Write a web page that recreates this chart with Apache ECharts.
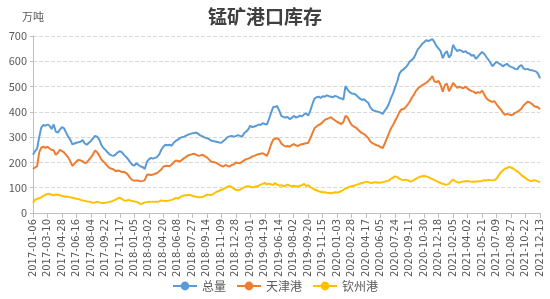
<!DOCTYPE html>
<html><head><meta charset="utf-8">
<script src="https://cdn.jsdelivr.net/npm/echarts@6/dist/echarts.min.js"></script>
<style>html,body{margin:0;padding:0;background:#fff}#c{width:550px;height:299px}</style>
</head><body><div id="c"></div>
<script>
// Label dates (every 7th weekly observation)
var labelDates = ['2017-01-06','2017-03-10','2017-04-28','2017-06-16','2017-08-04','2017-09-22','2017-11-17',
'2018-01-05','2018-03-02','2018-04-20','2018-06-08','2018-07-27','2018-09-14','2018-11-09','2018-12-28',
'2019-03-01','2019-04-19','2019-06-14','2019-08-02','2019-09-20','2019-11-15',
'2020-01-03','2020-02-28','2020-04-17','2020-06-05','2020-07-24','2020-09-11','2020-10-30','2020-12-18',
'2021-02-05','2021-04-02','2021-05-21','2021-07-09','2021-08-27','2021-10-22','2021-12-13'];

var total = [230,245,255,300,338,348,345,350,345,332,350,322,318,330,340,335,318,302,290,272,275,278,280,282,289,275,270,278,285,295,
305,302,290,270,257,250,240,232,228,226,232,240,245,240,230,222,212,200,190,188,197,190,184,182,174,202,212,218,215,218,
222,232,250,262,270,268,270,266,278,285,290,296,300,302,306,310,313,315,316,318,312,306,303,298,296,292,287,285,283,281,
279,278,285,292,300,303,305,302,304,308,305,302,315,322,330,345,340,342,345,350,348,355,352,350,370,395,418,420,423,405,
384,380,378,380,371,376,384,378,380,385,382,390,394,385,405,430,452,458,460,455,462,460,465,462,460,458,463,460,455,453,
448,502,488,478,473,472,468,460,452,447,450,442,436,418,408,404,402,400,397,392,405,416,432,455,473,498,520,550,562,568,
575,585,598,605,613,630,648,657,668,675,683,680,684,688,675,660,650,640,612,630,640,615,625,665,650,640,645,642,636,640,
633,630,622,625,610,618,628,637,630,618,607,595,580,590,598,592,588,580,586,590,582,578,575,570,568,580,585,572,568,570,
566,565,562,560,552,532];

var tianjin = [174,180,185,240,258,262,258,262,255,250,248,230,238,250,245,240,230,220,205,186,195,204,210,208,204,198,200,210,220,232,
247,240,228,212,204,195,185,178,175,172,165,168,166,162,163,158,150,138,130,128,129,128,125,127,130,150,152,150,152,155,
158,165,172,184,186,187,185,192,200,208,206,204,210,217,222,228,230,233,234,230,226,228,230,225,220,212,204,202,200,196,
191,186,184,190,186,184,190,192,200,198,197,202,208,213,215,218,224,226,230,232,234,236,232,226,245,270,289,294,296,290,
275,268,263,265,262,268,272,268,265,270,272,274,276,278,295,315,335,342,348,352,360,368,372,375,379,372,366,360,356,352,
360,384,378,362,348,342,338,330,322,316,312,305,296,283,276,272,268,266,260,257,275,295,315,335,348,365,380,398,410,410,
418,428,440,455,467,482,492,499,505,510,515,522,530,541,520,518,522,505,480,505,512,482,495,515,505,495,500,496,493,500,
492,486,482,480,473,478,475,484,470,455,447,442,440,442,430,420,410,398,388,392,390,386,390,396,400,405,412,425,432,440,
438,432,424,420,418,410];

var qinzhou = [40,52,56,58,62,68,72,75,76,72,70,73,72,70,68,65,64,65,62,60,58,56,55,52,50,48,46,45,43,40,
42,44,42,40,40,41,42,44,46,50,53,58,60,55,50,48,52,50,47,46,44,40,35,38,42,43,45,44,45,44,
44,46,50,48,47,48,50,52,55,60,57,63,66,69,70,71,72,68,65,64,62,62,63,68,72,72,71,75,80,85,
88,92,94,99,105,106,103,96,92,90,92,97,101,105,106,104,102,103,105,108,112,115,119,113,116,114,110,119,112,108,
110,106,108,112,108,104,108,106,104,108,110,115,106,110,102,98,93,90,86,84,82,82,80,79,78,80,82,81,83,87,
92,97,100,104,106,108,110,113,116,119,121,124,122,120,119,122,121,120,121,122,124,126,128,135,140,145,142,136,132,130,
132,130,125,126,130,135,140,143,145,146,145,142,138,134,130,126,122,118,116,113,112,115,125,132,126,122,120,123,125,126,
127,125,124,125,124,126,125,127,130,128,131,130,129,130,136,148,160,168,175,178,182,180,176,170,165,158,150,144,138,132,
128,126,130,128,125,122];

var seriesNames = ['总量','天津港','钦州港'];
var colors = ['#5B9BD5','#ED7D31','#FFC000'];

// build weekly category dates between label dates (7 observations per label step)
function fmt(d){var m=d.getUTCMonth()+1,dd=d.getUTCDate();return d.getUTCFullYear()+'-'+(m<10?'0':'')+m+'-'+(dd<10?'0':'')+dd;}
var categories = [];
for (var k=0;k<labelDates.length-1;k++){
  var s = new Date(labelDates[k]+'T00:00:00Z');
  categories.push(labelDates[k]);
  for (var j=1;j<7;j++){ categories.push(fmt(new Date(s.getTime()+j*7*86400000))); }
}
categories.push(labelDates[labelDates.length-1]);

var chart = echarts.init(document.getElementById('c'));
var dataArr = [total, tianjin, qinzhou];
chart.setOption({
  animation:false,
  color: colors,
  textStyle:{fontFamily:'"Noto Sans CJK SC", sans-serif'},
  title:{text:'锰矿港口库存', left:203, top:2, textStyle:{fontSize:19, fontWeight:'bold', color:'#404040'}},
  grid:{left:33, right:10, top:36, bottom:86, containLabel:false},
  legend:{bottom:2, left:'center', itemWidth:24, itemHeight:11, itemGap:10,
    textStyle:{fontSize:12, color:'#595959'}, data:seriesNames},
  xAxis:{type:'category', data:categories, boundaryGap:false,
    axisLine:{lineStyle:{color:'#bfbfbf'}},
    axisTick:{interval:6, lineStyle:{color:'#bfbfbf'}},
    axisLabel:{interval:6, rotate:90, fontSize:10, color:'#595959', margin:6, fontFamily:'"DejaVu Sans", sans-serif'}},
  yAxis:{type:'value', min:0, max:700, interval:100, name:'万吨', nameGap:14,
    nameTextStyle:{fontSize:11, color:'#595959', align:'center'},
    axisLine:{show:true, lineStyle:{color:'#bfbfbf'}},
    axisTick:{show:true, length:3, lineStyle:{color:'#bfbfbf'}},
    axisLabel:{fontSize:11, color:'#595959', margin:6},
    splitLine:{lineStyle:{type:'dashed', color:'#d9d9d9'}}},
  series: seriesNames.map(function(n,i){return {name:n, type:'line', data:dataArr[i], symbol:'circle', symbolSize:9,
    showSymbol:false, lineStyle:{width:2}, itemStyle:{color:colors[i]}};})
});
</script></body></html>
